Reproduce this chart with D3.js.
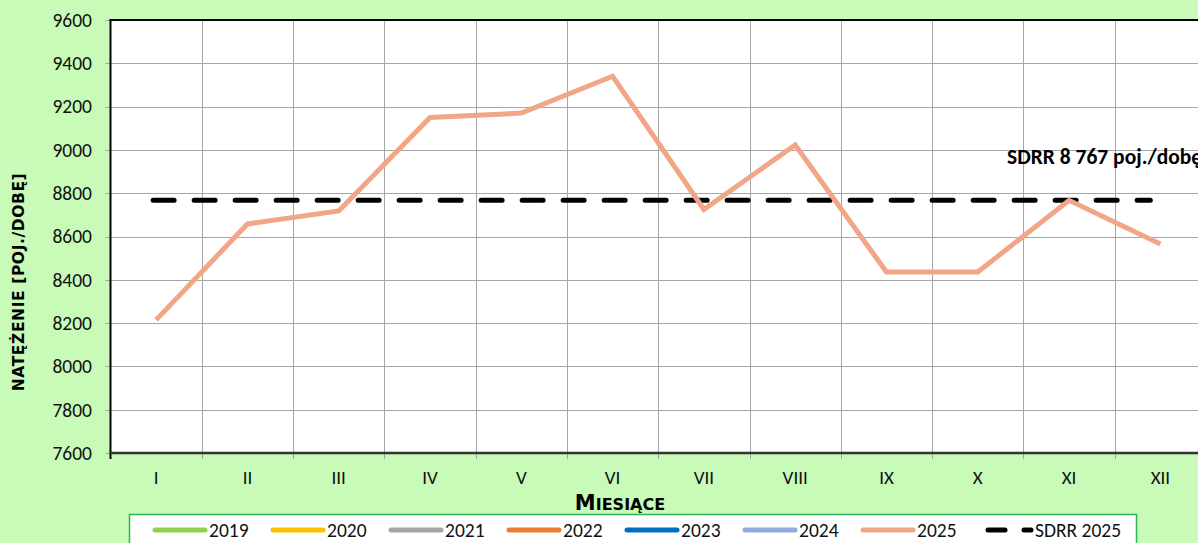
<!DOCTYPE html>
<html>
<head>
<meta charset="utf-8">
<script src="https://cdn.jsdelivr.net/npm/d3@7"></script>
<style>
  body { margin: 0; background: #c8fab8; overflow: hidden; }
  svg { display: block; font-family: Carlito, Lato, "Open Sans", sans-serif; }
</style>
</head>
<body>
<svg id="chart" width="1198" height="543"></svg>
<script>
const months = ["I", "II", "III", "IV", "V", "VI", "VII", "VIII", "IX", "X", "XI", "XII"]
const values2025 = [8215, 8658, 8718, 9150, 9170, 9340, 8725, 9023, 8436, 8436, 8767, 8565]
const sdrr = 8767
const yTicks = [7600, 7800, 8000, 8200, 8400, 8600, 8800, 9000, 9200, 9400, 9600]
const legendItems = [
  {name: "2019", color: "#92d050"},
  {name: "2020", color: "#ffc000"},
  {name: "2021", color: "#a5a5a5"},
  {name: "2022", color: "#ed7d31"},
  {name: "2023", color: "#0070c0"},
  {name: "2024", color: "#8faadc"},
  {name: "2025", color: "#f1a687"},
  {name: "SDRR 2025", color: "#000", dashed: true}
]

const svg = d3.select("#chart")
const margin = {left: 110.5, top: 20, right: -8, bottom: 90}
const width = 1198, height = 543

const x = d3.scaleBand()
  .domain(months)
  .range([margin.left, width - margin.right])
const y = d3.scaleLinear()
  .domain([7600, 9600])
  .range([height - margin.bottom, margin.top])

// plot area
svg.append("rect")
  .attr("x", margin.left).attr("y", margin.top)
  .attr("width", x.range()[1] - margin.left)
  .attr("height", y(7600) - y(9600))
  .attr("fill", "#fff")

// grid
const grid = svg.append("g").attr("stroke", "#a6a6a6").attr("stroke-width", 1)
grid.selectAll("line.h")
  .data(yTicks)
  .join("line")
    .attr("x1", margin.left - 5).attr("x2", x.range()[1])
    .attr("y1", d => Math.round(y(d)) + 0.5).attr("y2", d => Math.round(y(d)) + 0.5)
grid.selectAll("line.v")
  .data(months.slice(1))
  .join("line")
    .attr("class", "v")
    .attr("x1", d => Math.round(x(d)) + 0.5).attr("x2", d => Math.round(x(d)) + 0.5)
    .attr("y1", margin.top).attr("y2", y(7600) + 6)

// axis frame
svg.append("line")
  .attr("x1", margin.left).attr("x2", margin.left)
  .attr("y1", margin.top).attr("y2", y(7600) + 6)
  .attr("stroke", "#000").attr("stroke-width", 2)
svg.append("line")
  .attr("x1", margin.left - 1).attr("x2", width)
  .attr("y1", y(7600)).attr("y2", y(7600))
  .attr("stroke", "#333").attr("stroke-width", 2.5)
svg.append("line")
  .attr("x1", margin.left - 1).attr("x2", width)
  .attr("y1", margin.top).attr("y2", margin.top)
  .attr("stroke", "#000").attr("stroke-width", 2)

// y tick labels
svg.append("g").selectAll("text")
  .data(yTicks)
  .join("text")
    .attr("x", 92).attr("y", d => y(d))
    .attr("dy", "0.35em")
    .attr("text-anchor", "end")
    .attr("font-size", 19.5)
    .attr("fill", "#111")
    .text(d => d)

// x tick labels
svg.append("g").selectAll("text")
  .data(months)
  .join("text")
    .attr("x", d => x(d) + x.bandwidth() / 2)
    .attr("y", 484)
    .attr("text-anchor", "middle")
    .attr("font-size", 19)
    .attr("fill", "#111")
    .text(d => d)

// axis titles (small caps)
svg.append("text")
  .attr("x", 620).attr("y", 510)
  .attr("text-anchor", "middle")
  .attr("font-weight", "bold")
  .attr("font-size", 21)
  .attr("font-family", "'DejaVu Sans', sans-serif")
  .html('M<tspan font-size="16">IESIĄCE</tspan>')
svg.append("text")
  .attr("transform", "translate(24,282) rotate(-90)")
  .attr("text-anchor", "middle")
  .attr("font-weight", "bold")
  .attr("font-size", 15.5)
  .attr("font-family", "'DejaVu Sans', sans-serif")
  .attr("letter-spacing", 0.6)
  .text("NATĘŻENIE [POJ./DOBĘ]")

// SDRR dashed line
const cx = d => x(d) + x.bandwidth() / 2
svg.append("line")
  .attr("x1", cx("I") - 3).attr("x2", cx("XII") - 10)
  .attr("y1", y(sdrr)).attr("y2", y(sdrr))
  .attr("stroke", "#000").attr("stroke-width", 5)
  .attr("stroke-dasharray", "21 20")
  .attr("stroke-linecap", "round")

// 2025 series
const line = d3.line()
  .x((d, i) => cx(months[i]))
  .y(d => y(d))
svg.append("path")
  .datum(values2025)
  .attr("d", line)
  .attr("fill", "none")
  .attr("stroke", "#f1a687")
  .attr("stroke-width", 5)
  .attr("stroke-linejoin", "miter")

svg.append("text")
  .attr("x", 1007).attr("y", 164)
  .attr("font-weight", "bold")
  .attr("font-size", 21.5)
  .attr("fill", "#000")
  .text("SDRR 8 767 poj./dobę")

// legend
const legend = svg.append("g")
legend.append("rect")
  .attr("x", 129.5).attr("y", 514.5)
  .attr("width", 1007).attr("height", 40)
  .attr("fill", "#fff")
  .attr("stroke", "#2db35a").attr("stroke-width", 1.5)
const item = legend.selectAll("g.item")
  .data(legendItems)
  .join("g")
    .attr("transform", (d, i) => `translate(${155 + i * 118},530)`)
item.filter(d => !d.dashed).append("line")
  .attr("x1", 0).attr("x2", 50)
  .attr("stroke", d => d.color).attr("stroke-width", 5)
  .attr("stroke-linecap", "round")
item.filter(d => d.dashed).append("line")
  .attr("x1", 7).attr("x2", 24)
  .attr("stroke", "#000").attr("stroke-width", 5)
  .attr("stroke-linecap", "round")
item.filter(d => d.dashed).append("line")
  .attr("x1", 43).attr("x2", 50)
  .attr("stroke", "#000").attr("stroke-width", 5)
  .attr("stroke-linecap", "round")
item.append("text")
  .attr("x", 54).attr("dy", "0.35em")
  .attr("font-size", 19.5)
  .attr("fill", "#111")
  .text(d => d.name)
</script>
</body>
</html>
